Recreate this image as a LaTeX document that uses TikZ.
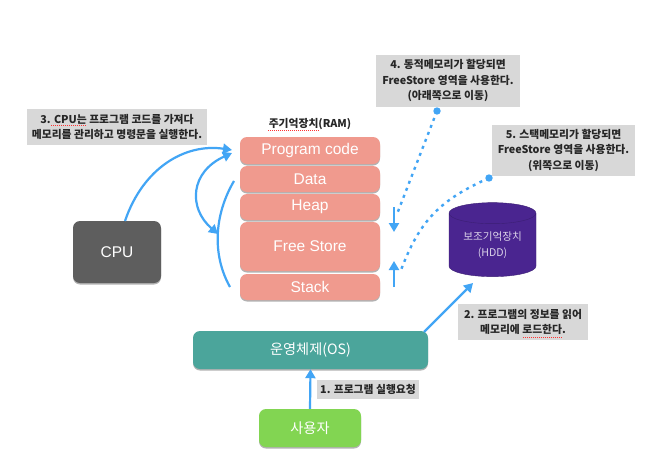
\documentclass[tikz,border=0pt]{standalone}
\usepackage{fontspec}
\setmainfont{Liberation Sans}
\newfontfamily\kr{Noto Sans CJK KR}
\usetikzlibrary{shadows,arrows.meta,shapes.geometric,positioning}
\definecolor{ramc}{HTML}{F09A8E}
\definecolor{cpuc}{HTML}{5E5E5E}
\definecolor{osc}{HTML}{4BA59B}
\definecolor{userc}{HTML}{82D552}
\definecolor{hddc}{HTML}{4A2590}
\definecolor{arrowc}{HTML}{42A5F5}
\definecolor{notec}{HTML}{D8D8D8}
\tikzset{
  x=1pt,y=-1pt,
  softshadow/.style={drop shadow={shadow xshift=0pt,shadow yshift=-1.5pt,fill=black,opacity=.3}},
  box/.style={rounded corners=7pt,minimum height=#1,text=white,softshadow,inner sep=0pt,font=\fontsize{15.5}{18}\selectfont},
  rambox/.style={box=#1,fill=ramc,minimum width=140pt},
  note/.style={fill=notec,inner sep=0pt,align=center,text=black!85,font=\kr\bfseries\fontsize{10.8}{15.5}\selectfont},
  flow/.style={draw=arrowc,line width=2.2pt,-{Triangle[length=9pt,width=10pt]}},
  plainflow/.style={draw=arrowc,line width=2.2pt},
  dotflow/.style={draw=arrowc,line width=2.4pt,dash pattern=on 3pt off 4.5pt},
  spell/.style={draw=red!80,line width=.5pt,dash pattern=on 1pt off 1pt},
}
\begin{document}
\begin{tikzpicture}
\useasboundingbox (0,0) rectangle (655,460);
\fill[white] (0,0) rectangle (655,460);
% memory
\node[rambox=27pt] (code) at (310,150.5) {Program code};
\node[rambox=26pt] (data) at (310,179) {Data};
\node[rambox=26pt] (heap) at (310,207) {Heap};
\node[rambox=49pt] (free) at (310,246.5) {Free Store};
\node[rambox=26pt] (stack) at (310,287) {Stack};
\node[font=\kr\bfseries\fontsize{10.8}{12}\selectfont,text=black!85] (ram) at (310,124) {주기억장치(RAM)};
% others
\node[box=62pt,fill=cpuc,minimum width=88pt] (cpu) at (117,252) {CPU};
\node[box=38pt,fill=osc,minimum width=235pt,font=\kr\fontsize{14.2}{16}\selectfont] (os) at (310.5,350) {운영체제(OS)};
\node[box=38pt,fill=userc,minimum width=102pt,font=\kr\fontsize{14.2}{16}\selectfont] (user) at (310,428) {사용자};
\node[cylinder,shape border rotate=90,aspect=.36,fill=hddc,draw=hddc!80!black,minimum width=87pt,minimum height=74pt,inner sep=0pt,
  align=center,text=white!80!hddc,font=\kr\fontsize{10.6}{15.5}\selectfont] (hdd) at (492.5,245) {보조기억장치\\(HDD)};
% notes
\node[note,minimum width=180pt,minimum height=36pt] (n3) at (117,127) {3. CPU는 프로그램 코드를 가져다\\메모리를 관리하고 명령문을 실행한다.};
\node[note,minimum width=144pt,minimum height=52pt] (n4) at (448,81) {4. 동적메모리가 할당되면\\FreeStore 영역을 사용한다.\\(아래쪽으로 이동)};
\node[note,minimum width=143pt,minimum height=51pt] (n5) at (563.5,150.5) {5. 스택메모리가 할당되면\\FreeStore 영역을 사용한다.\\(위쪽으로 이동)};
\node[note,minimum width=102pt,minimum height=19pt] (n1) at (368,389.5) {1. 프로그램 실행요청};
\node[note,minimum width=130pt,minimum height=36pt] (n2) at (523,322) {2. 프로그램의 정보를 읽어\\메모리에 로드한다.};
% spell marks
\draw[spell] (51,125.5) -- (86,125.5);
\draw[spell] (268,130) -- (320,130);
\draw[spell] (523,337.5) -- (563,337.5);
% free ends
\coordinate (c1a) at (125,221);
\coordinate (c1b) at (232,150);
\coordinate (c2a) at (232,153);
\coordinate (c2b) at (218,234);
\coordinate (c3a) at (234,181);
\coordinate (c3b) at (230,287);
\coordinate (d4) at (437,111);
\coordinate (d4e) at (397,214);
\coordinate (a4a) at (394,207);
\coordinate (a4b) at (394,232);
\coordinate (d5) at (489,178);
\coordinate (d5e) at (401,270);
\coordinate (a5a) at (394,287);
\coordinate (a5b) at (394,261);
\coordinate (o1) at (424,332);
\coordinate (h1) at (473,283);
% connectors
\draw[flow] (c1a) .. controls (143,168) and (185,143) .. (c1b);
\draw[flow,{Triangle[length=9pt,width=10pt]}-{Triangle[length=9pt,width=10pt]}] (c2a) .. controls (190,172) and (188,208) .. (c2b);
\draw[plainflow] (c3a) .. controls (214,215) and (212,255) .. (c3b);
\fill[arrowc] (d4) circle (3.7pt);
\draw[dotflow] (d4) -- (d4e);
\draw[flow] (a4a) -- (a4b);
\fill[arrowc] (d5) circle (3.7pt);
\draw[dotflow] (d5) .. controls (440,200) and (420,220) .. (d5e);
\draw[flow] (a5a) -- (a5b);
\draw[flow] (o1) -- (h1);
\draw[flow] (user.north) -- (os.south);
\end{tikzpicture}
\end{document}
